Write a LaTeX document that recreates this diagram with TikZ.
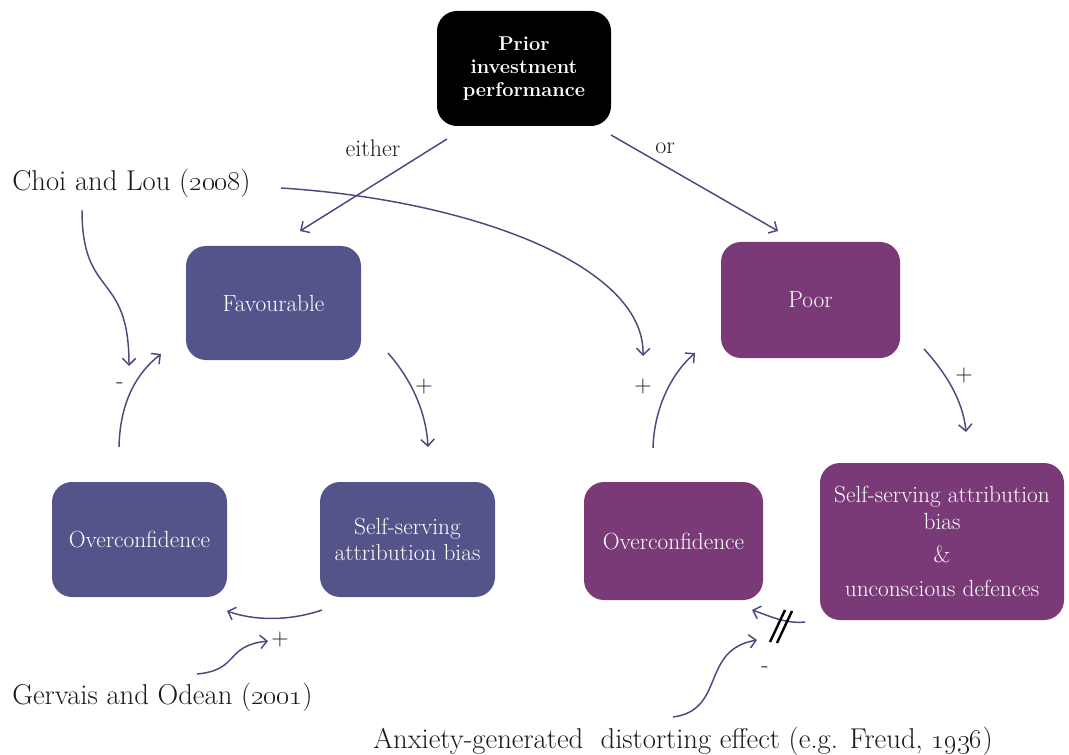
\documentclass[tikz,border=0pt]{standalone}
\usetikzlibrary{arrows.meta}
\definecolor{boxblue}{HTML}{54548A}
\definecolor{boxpurple}{HTML}{7A3A78}
\definecolor{arrowc}{HTML}{4A4A7E}
\definecolor{txt}{HTML}{1A1A1A}
\tikzset{
  box/.style={rounded corners=15pt, text=white, align=center, inner sep=0pt,
    font=\fontsize{17.5}{20}\selectfont},
  conn/.style={draw=arrowc, line width=1.1pt,
    -{Straight Barb[length=5pt,width=10pt,line width=1.1pt]}},
  lab/.style={text=txt, inner sep=0pt, font=\fontsize{18}{20}\selectfont},
  big/.style={text=txt, inner sep=0pt, anchor=west, font=\fontsize{21.5}{24}\selectfont},
  slash/.style={draw=black, line width=1.8pt},
}
\begin{document}
\begin{tikzpicture}[x=0.75pt,y=-0.75pt]
\useasboundingbox (0,0) rectangle (1069,755);
% boxes
\node[box, fill=black, minimum width=130.5pt, minimum height=86.25pt,
  font=\bfseries\fontsize{15}{17.25}\selectfont] (prior) at (524,68.5) {Prior\\investment\\performance};
\node[box, fill=boxblue, minimum width=131.25pt, minimum height=85.5pt] (fav) at (273.5,303) {Favourable};
\node[box, fill=boxpurple, minimum width=134.25pt, minimum height=87pt] (poor) at (810.5,300) {Poor};
\node[box, fill=boxblue, minimum width=131.25pt, minimum height=86.25pt] (ocl) at (139.5,539.5) {Overconfidence};
\node[box, fill=boxblue, minimum width=131.25pt, minimum height=86.25pt] (ssl) at (407.5,539.5) {Self-serving\\attribution bias};
\node[box, fill=boxpurple, minimum width=134.25pt, minimum height=88.5pt] (ocr) at (673.5,541) {Overconfidence};
\node[box, fill=boxpurple, minimum width=183pt, minimum height=117.75pt] (ssr) at (942,541.5)
  {Self-serving attribution\\bias\\[5pt]\&\\[5pt]unconscious defences};
% text labels
\node[lab] (either) at (373,148) {either};
\node[lab] (or) at (665,148) {or};
\node[big] (choi) at (12,183) {Choi and Lou (\oldstylenums{2008})};
\node[big] (gerv) at (12,697) {Gervais and Odean (\oldstylenums{2001})};
\node[big] (anx) at (373,741) {Anxiety-generated\ \ distorting effect (e.g. Freud, \oldstylenums{1936})};
\node[lab] (p1) at (424,387) {+};
\node[lab] (m1) at (120,386) {-};
\node[lab] (p2) at (643,387) {+};
\node[lab] (p3) at (964,376) {+};
\node[lab] (p4) at (280,640) {+};
\node[lab] (m2) at (765,670) {-};
% connector end points
\coordinate (e1) at (447,139); \coordinate (e2) at (300,231);
\coordinate (o1) at (611,135); \coordinate (o2) at (778,231);
\coordinate (c1) at (281,188); \coordinate (c2) at (643,356);
\coordinate (d1) at (82,210);  \coordinate (d3) at (129,366);
\coordinate (f1) at (119,447); \coordinate (f2) at (161,354);
\coordinate (g1) at (388,353); \coordinate (g2) at (428,447);
\coordinate (h1) at (322,610); \coordinate (h2) at (227,611);
\coordinate (k1) at (197,674); \coordinate (k2) at (268,641);
\coordinate (q1) at (653,448); \coordinate (q2) at (695,353);
\coordinate (r1) at (924,349); \coordinate (r2) at (966,432);
\coordinate (s1) at (805,622); \coordinate (s2) at (752,610);
\coordinate (a1) at (673,717); \coordinate (a2) at (757,640);
\coordinate (sa1) at (770,642); \coordinate (sa2) at (785,610);
\coordinate (sb1) at (777,643); \coordinate (sb2) at (792,611);
% connectors
\draw[conn] (e1) -- (e2);
\draw[conn] (o1) -- (o2);
\draw[conn] (c1) .. controls (470,200) and (645,265) .. (c2);
\draw[conn] (d1) .. controls (82,300) and (129,270) .. (d3);
\draw[conn] (f1) .. controls (120,400) and (138,372) .. (f2);
\draw[conn] (g1) .. controls (410,378) and (426,410) .. (g2);
\draw[conn] (h1) .. controls (290,621) and (255,621) .. (h2);
\draw[conn] (k1) .. controls (240,670) and (224,646) .. (k2);
\draw[conn] (q1) .. controls (654,410) and (670,375) .. (q2);
\draw[conn] (r1) .. controls (945,372) and (963,400) .. (r2);
\draw[conn] (s1) .. controls (785,624) and (770,616) .. (s2);
\draw[conn] (a1) .. controls (726,710) and (700,650) .. (a2);
\draw[slash] (sa1) -- (sa2);
\draw[slash] (sb1) -- (sb2);
\end{tikzpicture}
\end{document}
